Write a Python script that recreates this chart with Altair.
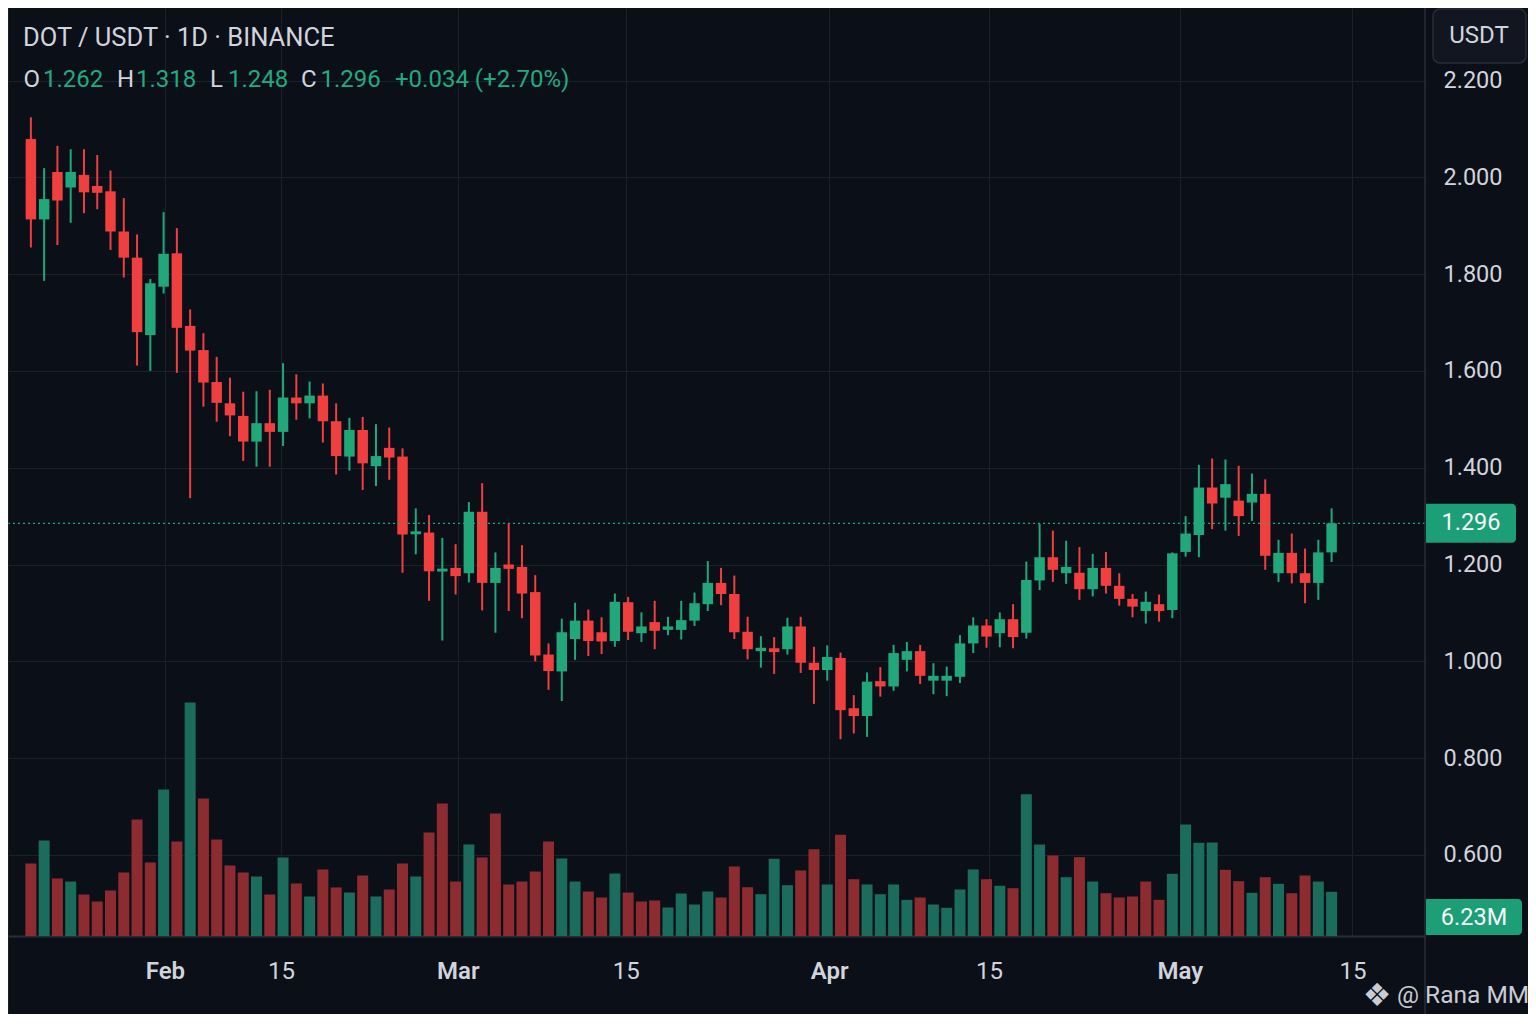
import altair as alt
import pandas as pd

# ---------------- data ----------------
opens = [2.079, 1.913, 2.011, 1.979, 2.005, 1.982, 1.971, 1.888, 1.834, 1.674,
         1.774, 1.843, 1.693, 1.643, 1.577, 1.533, 1.507, 1.454, 1.492, 1.474,
         1.545, 1.533, 1.549, 1.496, 1.423, 1.478, 1.403, 1.441, 1.423, 1.263,
         1.266, 1.186, 1.193, 1.182, 1.309, 1.162, 1.200, 1.195, 1.143, 1.014,
         0.979, 1.046, 1.084, 1.060, 1.042, 1.122, 1.058, 1.081, 1.065, 1.065,
         1.084, 1.118, 1.162, 1.139, 1.061, 1.021, 1.027, 1.025, 1.072, 0.997,
         0.982, 1.007, 0.903, 0.887, 0.959, 0.948, 1.003, 1.021, 0.960, 0.960,
         0.968, 1.037, 1.074, 1.058, 1.087, 1.059, 1.167, 1.215, 1.182, 1.183,
         1.149, 1.193, 1.156, 1.129, 1.104, 1.118, 1.106, 1.226, 1.261, 1.359,
         1.338, 1.332, 1.328, 1.346, 1.182, 1.224, 1.182, 1.162, 1.225]
highs = [2.124, 2.019, 2.065, 2.058, 2.058, 2.046, 2.014, 1.957, 1.882, 1.790,
         1.928, 1.895, 1.727, 1.678, 1.629, 1.586, 1.557, 1.558, 1.561, 1.616,
         1.593, 1.578, 1.574, 1.533, 1.503, 1.505, 1.490, 1.483, 1.440, 1.316,
         1.302, 1.255, 1.242, 1.329, 1.368, 1.225, 1.285, 1.240, 1.178, 1.037,
         1.088, 1.121, 1.107, 1.091, 1.140, 1.133, 1.101, 1.125, 1.092, 1.125,
         1.142, 1.207, 1.193, 1.177, 1.092, 1.052, 1.050, 1.090, 1.092, 1.030,
         1.033, 1.018, 0.930, 0.977, 0.988, 1.034, 1.040, 1.034, 0.996, 0.989,
         1.054, 1.091, 1.087, 1.101, 1.118, 1.206, 1.284, 1.270, 1.249, 1.236,
         1.222, 1.226, 1.182, 1.139, 1.144, 1.138, 1.225, 1.300, 1.406, 1.419,
         1.417, 1.404, 1.388, 1.376, 1.251, 1.264, 1.233, 1.251, 1.316]
lows = [1.855, 1.786, 1.860, 1.906, 1.926, 1.934, 1.850, 1.793, 1.611, 1.600,
        1.760, 1.596, 1.337, 1.526, 1.495, 1.465, 1.414, 1.402, 1.402, 1.445,
        1.499, 1.502, 1.452, 1.386, 1.394, 1.354, 1.362, 1.375, 1.183, 1.221,
        1.125, 1.043, 1.138, 1.163, 1.105, 1.059, 1.104, 1.089, 1.000, 0.941,
        0.918, 1.003, 1.011, 1.015, 1.030, 1.044, 1.040, 1.025, 1.054, 1.045,
        1.073, 1.104, 1.116, 1.046, 1.004, 0.987, 0.974, 1.014, 0.976, 0.912,
        0.960, 0.839, 0.851, 0.844, 0.927, 0.939, 0.979, 0.953, 0.932, 0.928,
        0.955, 1.017, 1.028, 1.029, 1.027, 1.047, 1.147, 1.164, 1.160, 1.127,
        1.134, 1.140, 1.115, 1.091, 1.078, 1.082, 1.089, 1.216, 1.215, 1.273,
        1.270, 1.259, 1.290, 1.189, 1.164, 1.161, 1.120, 1.127, 1.205]
closes = [1.913, 1.955, 1.952, 2.011, 1.969, 1.968, 1.888, 1.834, 1.680, 1.781,
          1.842, 1.689, 1.642, 1.576, 1.534, 1.508, 1.454, 1.492, 1.474, 1.545,
          1.533, 1.549, 1.496, 1.424, 1.478, 1.409, 1.424, 1.421, 1.262, 1.268,
          1.186, 1.191, 1.176, 1.309, 1.162, 1.193, 1.191, 1.140, 1.012, 0.980,
          1.060, 1.084, 1.042, 1.041, 1.123, 1.061, 1.072, 1.063, 1.072, 1.085,
          1.120, 1.162, 1.139, 1.060, 1.025, 1.028, 1.019, 1.072, 0.997, 0.982,
          1.009, 0.899, 0.887, 0.958, 0.948, 1.017, 1.021, 0.970, 0.970, 0.970,
          1.037, 1.074, 1.051, 1.087, 1.050, 1.168, 1.215, 1.189, 1.195, 1.149,
          1.193, 1.156, 1.129, 1.113, 1.123, 1.104, 1.223, 1.264, 1.359, 1.326,
          1.366, 1.300, 1.346, 1.218, 1.224, 1.182, 1.162, 1.225, 1.285]
volumes = [10.22, 13.47, 8.11, 7.68, 5.85, 4.86, 6.42, 8.95, 16.43, 10.36,
           20.66, 13.32, 32.92, 19.39, 13.61, 9.94, 8.95, 8.39, 5.85, 11.07,
           7.40, 5.57, 9.38, 6.84, 6.13, 8.53, 5.57, 6.56, 10.22, 8.39,
           14.59, 18.68, 7.68, 12.90, 11.07, 17.27, 7.26, 7.68, 9.09, 13.32,
           10.93, 7.68, 6.27, 5.43, 8.81, 6.13, 4.86, 5.01, 4.02, 5.99,
           4.44, 6.27, 5.43, 9.80, 6.88, 5.89, 10.89, 7.16, 9.24, 12.24,
           7.26, 14.27, 8.01, 7.26, 5.89, 7.26, 5.10, 5.43, 4.44, 3.98,
           6.56, 9.38, 8.01, 7.08, 6.74, 19.99, 12.90, 11.35, 8.29, 11.11,
           7.68, 6.03, 5.43, 5.57, 7.68, 5.10, 8.77, 15.72, 13.14, 13.18,
           9.33, 7.73, 6.09, 8.29, 7.36, 6.03, 8.53, 7.68, 6.23]
vol_up = [0, 1, 0, 1, 0, 0, 0, 0, 0, 0,
          1, 0, 1, 0, 0, 0, 0, 1, 0, 1,
          0, 1, 0, 0, 1, 0, 1, 0, 0, 1,
          0, 0, 0, 1, 0, 0, 0, 0, 0, 0,
          1, 1, 0, 0, 1, 0, 0, 0, 1, 1,
          1, 1, 0, 0, 0, 1, 1, 1, 0, 0,
          1, 0, 0, 1, 1, 1, 1, 0, 1, 1,
          1, 1, 0, 1, 0, 1, 1, 0, 1, 0,
          1, 0, 0, 0, 0, 0, 1, 1, 1, 1,
          0, 0, 1, 0, 1, 0, 0, 1, 1]

tick_idx = [10.10, 18.85, 32.17, 44.81, 60.15, 72.19, 86.56, 99.57]
tick_labels = ["Feb", "15", "Mar", "15", "Apr", "15", "May", "15"]
price_ticks = [0.6, 0.8, 1.0, 1.2, 1.4, 1.6, 1.8, 2.0, 2.2]

header_title = "DOT / USDT · 1D · BINANCE"
header_ohlc = [("O", "1.262"), ("H", "1.318"), ("L", "1.248"), ("C", "1.296")]
header_change = "+0.034 (+2.70%)"
quote_currency = "USDT"
last_price_label = "1.296"
watermark = "@ Rana MM"

# ---------------- styling / layout ----------------
BG = "#0b0f18"
UP = "#22a77b"
DOWN = "#f03f3f"
VUP = "#1b6c5c"
VDOWN = "#8c2c30"
GRID = "#1c202b"
LINE = "#2a2e39"
TXT = "#d1d4dc"
GTXT = "#22aa7f"
BOX = "#1c9e76"
FONT = "Roboto"

W, H = 1417, 928
X_DOM = [-1.3466, 104.66]
Y_DOM = [0.43244, 2.3498]
V_DOM = [0, 130.8]

df = pd.DataFrame({
    "i": list(range(len(opens))),
    "open": opens, "high": highs, "low": lows, "close": closes,
    "vol": volumes, "vup": vol_up,
})
last = df.tail(1)

xscale = alt.Scale(domain=X_DOM, nice=False, zero=False)


def yscale():
    return alt.Scale(domain=Y_DOM, nice=False, zero=False)


month_vals = [v for v, l in zip(tick_idx, tick_labels) if l != "15"]
label_expr = "[" + ",".join("'%s'" % l for l in tick_labels) + "][indexof([" + \
    ",".join(str(v) for v in tick_idx) + "], datum.value)]"

xaxis = alt.Axis(
    values=tick_idx, labelExpr=label_expr, title=None,
    grid=True, gridColor=GRID, gridWidth=1,
    domain=True, domainColor=LINE, domainWidth=2,
    ticks=False, tickSize=0,
    labelFont=FONT, labelFontSize=24, labelColor=TXT,
    labelPadding=35, labelBaseline="middle", labelFlush=False, labelOverlap=False,
    labelFontWeight={"condition": {"test": "indexof([%s], datum.value) >= 0" %
                                           ",".join(str(v) for v in month_vals),
                                   "value": 600},
                     "value": 400},
)
yaxis = alt.Axis(
    orient="right", values=price_ticks, format=".3f", title=None,
    grid=True, gridColor=GRID, gridWidth=1,
    domain=False, ticks=False, tickSize=0,
    labelFont=FONT, labelFontSize=23.5, labelColor=TXT,
    labelPadding=18, labelAlign="left", labelFlush=False, labelOverlap=False,
)

xenc = alt.X("i:Q", scale=xscale, axis=xaxis)
candle_color = alt.condition("datum.close >= datum.open", alt.value(UP), alt.value(DOWN))

base = alt.Chart(df)

volume = base.mark_bar(width=11).encode(
    x=xenc,
    y=alt.Y("vol:Q", scale=alt.Scale(domain=V_DOM, nice=False, zero=True), axis=None),
    color=alt.condition("datum.vup == 1", alt.value(VUP), alt.value(VDOWN)),
)

wicks = base.mark_rule(strokeWidth=2).encode(
    x=xenc,
    y=alt.Y("low:Q", scale=yscale(), axis=yaxis),
    y2="high:Q",
    color=candle_color,
)

bodies = base.transform_calculate(
    bt="max(datum.open, datum.close)",
    bb="min(datum.open, datum.close)",
).transform_calculate(
    top="datum.bt - datum.bb < 0.006 ? (datum.bt + datum.bb) / 2 + 0.003 : datum.bt",
    bot="datum.bt - datum.bb < 0.006 ? (datum.bt + datum.bb) / 2 - 0.003 : datum.bb",
).mark_bar(width=10.5).encode(
    x=xenc,
    y=alt.Y("top:Q", scale=yscale(), axis=None),
    y2="bot:Q",
    color=candle_color,
)

price_line = alt.Chart(last).mark_rule(strokeDash=[2, 3], strokeWidth=1.2, color=UP).encode(
    y=alt.Y("close:Q", scale=yscale(), axis=None),
    x=alt.value(0), x2=alt.value(W),
)

price_box = alt.Chart(last).transform_calculate(
    b1="datum.close - 0.0403", b2="datum.close + 0.0403"
).mark_rect(color=BOX, cornerRadiusTopRight=4, cornerRadiusBottomRight=4).encode(
    x=alt.value(W + 1), x2=alt.value(W + 91),
    y=alt.Y("b1:Q", scale=yscale(), axis=None), y2="b2:Q",
)
price_text = alt.Chart(last).mark_text(
    font=FONT, fontSize=23.5, color="#f4f6f8", align="center", baseline="middle"
).encode(
    x=alt.value(W + 46),
    y=alt.Y("close:Q", scale=yscale(), axis=None),
    text=alt.value(last_price_label),
)

vol_box = alt.Chart(last).mark_rect(color=BOX, cornerRadiusTopRight=4, cornerRadiusBottomRight=4).encode(
    x=alt.value(W + 1), x2=alt.value(W + 97), y=alt.value(891), y2=alt.value(927),
)
vol_text = alt.Chart(last).transform_calculate(
    vl="format(datum.vol, '.2f') + 'M'"
).mark_text(font=FONT, fontSize=23.5, color="#f4f6f8", align="center", baseline="middle").encode(
    x=alt.value(W + 49), y=alt.value(910), text="vl:N",
)

one = pd.DataFrame({"k": [0]})
divider = alt.Chart(one).mark_rule(color=LINE, strokeWidth=1.5).encode(
    x=alt.value(W), y=alt.value(-8), y2=alt.value(H + 88)
)
left_edge = alt.Chart(one).mark_rule(color=LINE, strokeWidth=1).encode(
    x=alt.value(0), y=alt.value(-8), y2=alt.value(H + 88)
)

usdt_box = alt.Chart(one).mark_rect(
    fill="#121620", stroke=LINE, strokeWidth=1.5, cornerRadius=7
).encode(x=alt.value(W + 8), x2=alt.value(W + 101), y=alt.value(1), y2=alt.value(55))
usdt_text = alt.Chart(one).mark_text(
    font=FONT, fontSize=24, color=TXT, align="center", baseline="middle"
).encode(x=alt.value(W + 54), y=alt.value(28), text=alt.value(quote_currency))

title_text = alt.Chart(one).mark_text(
    font=FONT, fontSize=25.5, color=TXT, align="left", baseline="middle"
).encode(x=alt.value(15), y=alt.value(30), text=alt.value(header_title))

seg_x = [15.5, 35, 109, 128, 202, 220, 293, 312.5, 387]
seg_text, seg_col = [], []
for k, v in header_ohlc:
    seg_text += [k, v]
    seg_col += [TXT, GTXT]
seg_text.append(header_change)
seg_col.append(GTXT)
ohlc_df = pd.DataFrame({"t": seg_text, "px": seg_x, "c": seg_col})
ohlc_text = alt.Chart(ohlc_df).mark_text(
    font=FONT, fontSize=24, align="left", baseline="middle"
).encode(
    x=alt.X("px:Q", scale=None), y=alt.value(72), text="t:N",
    color=alt.Color("c:N", scale=None),
)

logo = alt.Chart(one).mark_text(
    font="DejaVu Sans", fontSize=32, color="#c9ccd3", align="center", baseline="middle"
).encode(x=alt.value(1369), y=alt.value(988), text=alt.value("❖"))
wm_text = alt.Chart(one).mark_text(
    font=FONT, fontSize=24.5, color="#c9ccd3", align="left", baseline="middle"
).encode(x=alt.value(1389), y=alt.value(988), text=alt.value(watermark))

chart = alt.layer(
    volume, wicks, bodies, price_line, price_box, price_text,
    divider, left_edge, vol_box, vol_text,
    usdt_box, usdt_text, title_text, ohlc_text, logo, wm_text,
).resolve_scale(y="independent").properties(
    width=W, height=H,
    autosize=alt.AutoSizeParams(type="none"),
    padding={"left": 0, "top": 0, "right": 103, "bottom": 78},
).configure(background=BG).configure_view(stroke=None)

chart.save("out.html", embed_options={"renderer": "svg", "actions": False})
